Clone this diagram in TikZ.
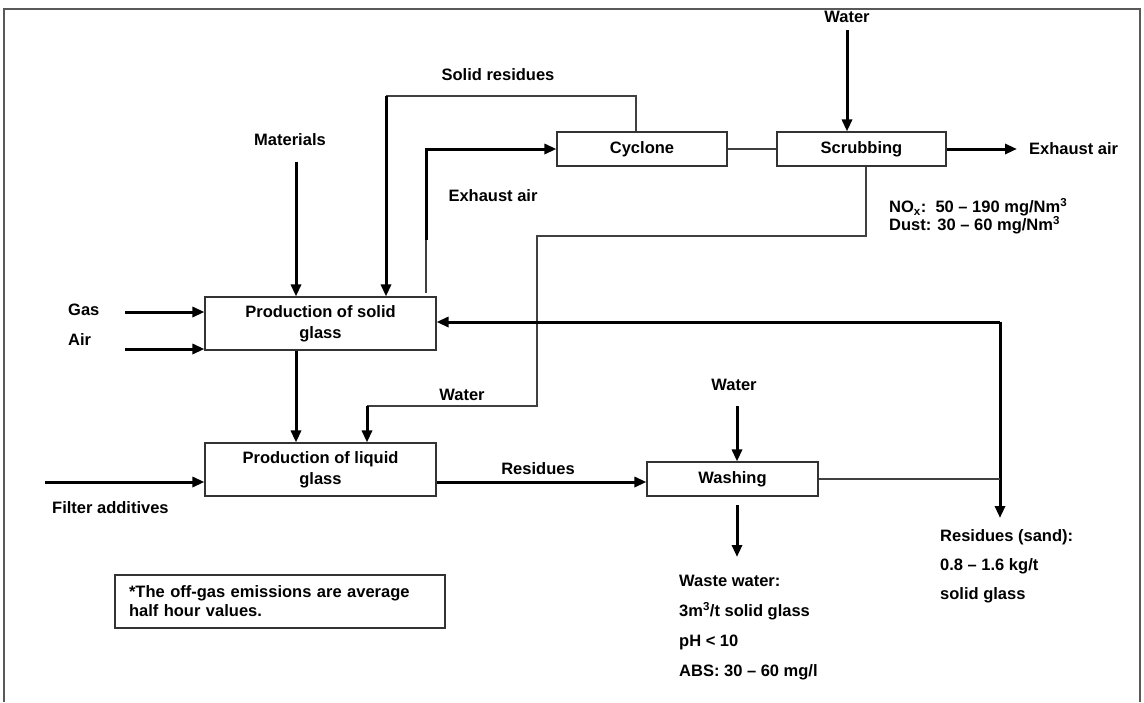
\documentclass[tikz,border=0pt]{standalone}
\usepackage{fontspec}
\setmainfont{Liberation Sans}
\usetikzlibrary{positioning}
\usetikzlibrary{arrows.meta}
\tikzset{box/.style={draw=black!80, line width=1.1pt, inner sep=0pt, align=center, font=\bfseries\fontsize{16.5}{21}\selectfont}, post/.style={-{Triangle[length=12pt,width=10pt]}, line width=3pt}, link/.style={draw=black!75, line width=1.2pt}, lbl/.style={inner sep=0pt, anchor=west, align=left}}

\begin{document}
\begin{tikzpicture}[x=1pt, y=-1pt, font=\bfseries\fontsize{16.5}{19}\selectfont]
  \useasboundingbox (0,0) rectangle (1144,702);

  % frame
  \draw[black!65, line width=2pt] (4,702) -- (4,9) -- (1140,9) -- (1140,702);

  % process boxes
  \node[box, minimum width=231pt, minimum height=53pt] (solid) at (320.5,323.5) {Production of solid\\glass};
  \node[box, minimum width=231pt, minimum height=53pt] (liquid) at (320.5,469.5) {Production of liquid\\glass};
  \node[box, minimum width=170pt, minimum height=34pt] (cyclone) at (642,149) {Cyclone};
  \node[box, minimum width=169pt, minimum height=34pt] (scrub) at (861.5,149) {Scrubbing};
  \node[box, minimum width=171pt, minimum height=34pt] (wash) at (732.5,479) {Washing};

  % inputs of the solid glass furnace
  \node[lbl] (gaslbl) at (68,310) {Gas};
  \node[lbl] (airlbl) at (68,340) {Air};
  \coordinate (gas) at (125,312);
  \coordinate (air) at (125,349);
  \draw[post] (gas) -- (gas -| solid.west);
  \draw[post] (air) -- (air -| solid.west);
  \node (materials) at (290,140) {Materials};
  \coordinate (mat) at (296,162);
  \draw[post] (mat) -- (mat |- solid.north);
  \draw[post] (mat |- solid.south) -- (mat |- liquid.north);

  % off-gas through cyclone and scrubber
  \node (solidres) at (498,75) {Solid residues};
  \coordinate (srtop) at (636,96);
  \coordinate (sr) at (386,96);
  \draw[link] (srtop |- cyclone.north) -- (srtop) -- (sr);
  \draw[post] (sr) -- (sr |- solid.north);
  \node (exhlbl) at (493,196) {Exhaust air};
  \coordinate (ex) at (426,293);
  \coordinate (exmid) at (426,240);
  \draw[link] (ex) -- (exmid);
  \draw[post] (exmid) |- (cyclone.west);
  \draw[link] (cyclone.east) -- (scrub.west);
  \node (scrubwater) at (847,17) {Water};
  \coordinate (wtop) at (847,30);
  \draw[post] (wtop) -- (wtop |- scrub.north);
  \coordinate (exh) at (1017,149);
  \draw[post] (scrub.east) -- (exh);
  \node[lbl] (exhout) at (1029,149) {Exhaust air};
  \node[lbl, font=\bfseries\fontsize{16.5}{18}\selectfont] (emis) at (889,216) {NO\textsubscript{x}:\ \ 50 -- 190 mg/Nm\textsuperscript{3}\\Dust: 30 -- 60 mg/Nm\textsuperscript{3}};

  % scrubber water into liquid glass
  \coordinate (sw1) at (866,236);
  \coordinate (sw2) at (537,406);
  \coordinate (sw3) at (367,406);
  \draw[link] (sw1 |- scrub.south) -- (sw1) -| (sw2) -- (sw3);
  \draw[post] (sw3) -- (sw3 |- liquid.north);
  \node (waterlbl) at (462,395) {Water};

  % liquid glass and washing
  \node[lbl] (filtlbl) at (52,508) {Filter additives};
  \coordinate (filt) at (45,482);
  \draw[post] (filt) -- (filt -| liquid.west);
  \draw[post] (filt -| liquid.east) -- (filt -| wash.west);
  \node (reslbl) at (538,469) {Residues};
  \node (washwater) at (734,385) {Water};
  \coordinate (wwin) at (737,406);
  \draw[post] (wwin) -- (wwin |- wash.north);
  \coordinate (wwout) at (737,505);
  \coordinate (wwend) at (737,557);
  \draw[post] (wwout) -- (wwend);
  \node[lbl, font=\bfseries\fontsize{16.5}{30}\selectfont] (waste) at (679,628) {Waste water:\\3m\textsuperscript{3}/t solid glass\\pH < 10\\ABS: 30 -- 60 mg/l};

  % sand back to the furnace
  \coordinate (split) at (1000,322);
  \coordinate (sand) at (1000,518);
  \draw[post] (split) -- (split -| solid.east);
  \draw[post] (split) -- (sand);
  \draw[link] (wash.east) -- (wash.east -| split);
  \node[lbl, font=\bfseries\fontsize{16.5}{29}\selectfont] (sandlbl) at (940,566) {Residues (sand):\\0.8 -- 1.6 kg/t\\solid glass};

  % note
  \node[box, minimum height=53pt, text width=302pt, inner xsep=14pt, align=left, font=\bfseries\fontsize{16.5}{19}\selectfont] (note) at (280,601.5) {*The off-gas emissions are average half hour values.};
\end{tikzpicture}
\end{document}
